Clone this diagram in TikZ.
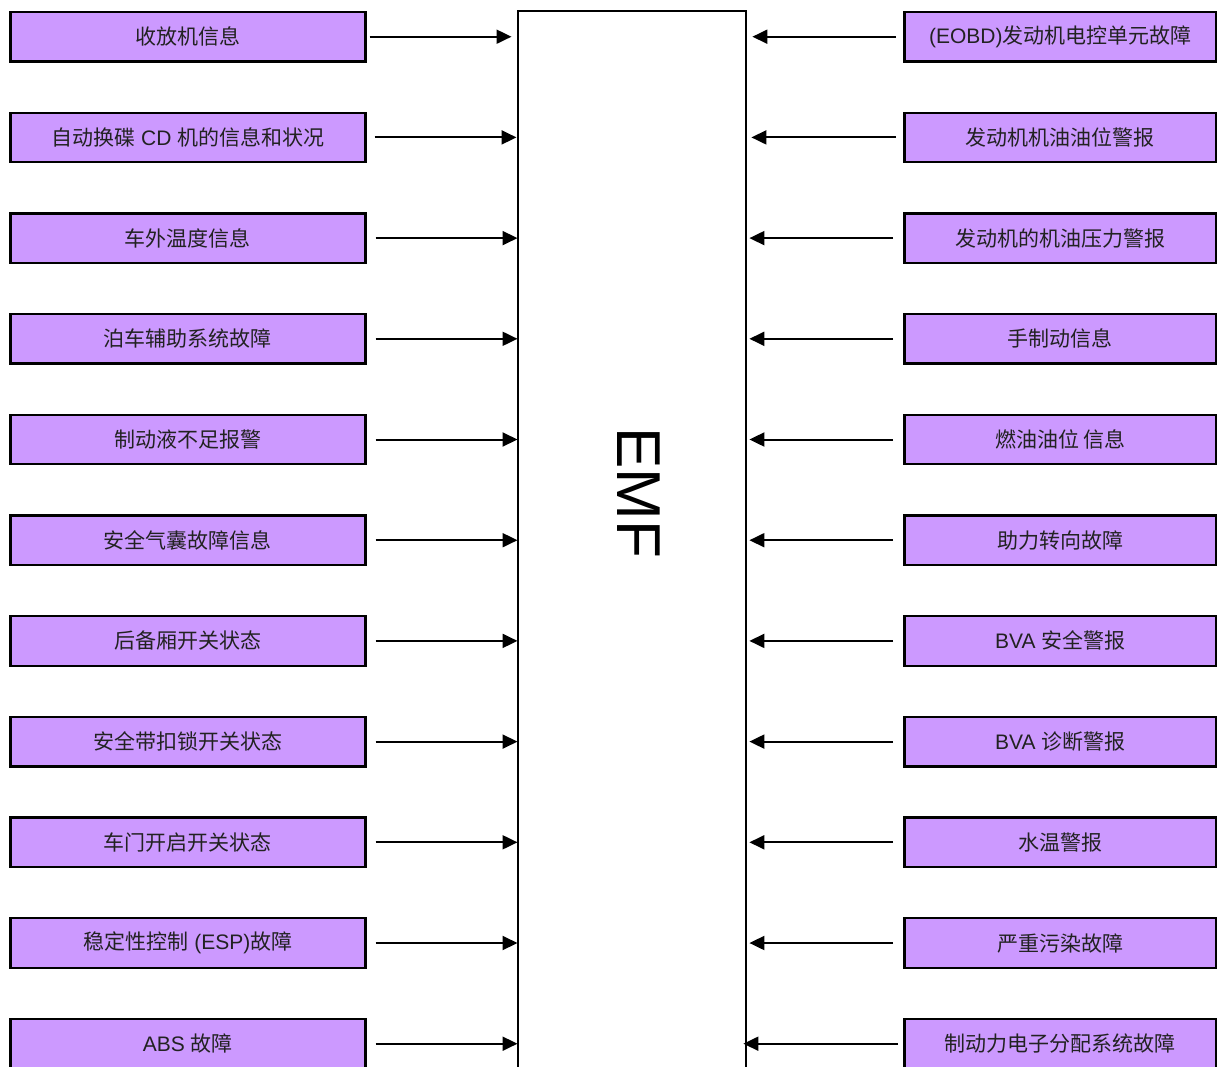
\documentclass[tikz,border=0pt]{standalone}
\usepackage{fontspec}
\setmainfont{Liberation Sans}
\newfontfamily\cjk{Noto Sans CJK SC}
\usetikzlibrary{arrows.meta}
\definecolor{boxfill}{HTML}{CC99FF}
\definecolor{txt}{HTML}{222222}
\tikzset{
  infobox/.style={draw=black, line width=2.3pt, fill=boxfill, text=txt,
    minimum height=49.5pt, inner sep=0pt, anchor=north west,
    font=\fontsize{21}{25}\selectfont},
  leftbox/.style={infobox, minimum width=355pt},
  rightbox/.style={infobox, minimum width=312pt},
  conn/.style={line width=2pt, -{Triangle[length=15pt,width=14pt]}},
}
\begin{document}
\begin{tikzpicture}[x=1pt,y=-1pt]
\useasboundingbox (0,0) rectangle (1217,1066);
% central block
\draw[line width=2pt] (517.5,1075) -- (517.5,10.5) -- (746,10.5) -- (746,1075);
\node[minimum width=228.5pt, minimum height=1065pt, anchor=north west, inner sep=0pt] (emf) at (517.5,10.5) {};
\node[rotate=-90, font=\fontsize{62}{62}\selectfont, inner sep=0pt] (emflabel) at (639,493) {EMF};
% left boxes
\foreach \t [count=\i from 0] in {
  {\cjk 收放机信息},
  {\cjk 自动换碟} CD {\cjk 机的信息和状况},
  {\cjk 车外温度信息},
  {\cjk 泊车辅助系统故障},
  {\cjk 制动液不足报警},
  {\cjk 安全气囊故障信息},
  {\cjk 后备厢开关状态},
  {\cjk 安全带扣锁开关状态},
  {\cjk 车门开启开关状态},
  {\cjk 稳定性控制} (ESP){\cjk 故障},
  ABS {\cjk 故障}}
{
  \pgfmathsetmacro{\top}{10.8+100.7*\i}
  \node[leftbox] (L\i) at (9.2,\top) {\t};
}
% right boxes
\foreach \t [count=\i from 0] in {
  (EOBD){\cjk 发动机电控单元故障},
  {\cjk 发动机机油油位警报},
  {\cjk 发动机的机油压力警报},
  {\cjk 手制动信息},
  {\cjk 燃油油位 信息},
  {\cjk 助力转向故障},
  BVA {\cjk 安全警报},
  BVA {\cjk 诊断警报},
  {\cjk 水温警报},
  {\cjk 严重污染故障},
  {\cjk 制动力电子分配系统故障}}
{
  \pgfmathsetmacro{\top}{10.8+100.7*\i}
  \node[rightbox] (R\i) at (903.2,\top) {\t};
}
% left connectors
\draw[conn, shorten <=3pt, shorten >=6pt] (L0.east) -- (L0.east -| emf.west);
\draw[conn, shorten <=8pt, shorten >=1pt] (L1.east) -- (L1.east -| emf.west);
\foreach \i in {2,...,10}{
  \draw[conn, shorten <=9pt] (L\i.east) -- (L\i.east -| emf.west);
}
% right connectors
\draw[conn, shorten <=7pt, shorten >=6pt] (R0.west) -- (R0.west -| emf.east);
\draw[conn, shorten <=7pt, shorten >=5pt] (R1.west) -- (R1.west -| emf.east);
\foreach \i in {2,...,9}{
  \draw[conn, shorten <=10pt, shorten >=3pt] (R\i.west) -- (R\i.west -| emf.east);
}
\draw[conn, shorten <=5pt, shorten >=-3pt] (R10.west) -- (R10.west -| emf.east);
\end{tikzpicture}
\end{document}
